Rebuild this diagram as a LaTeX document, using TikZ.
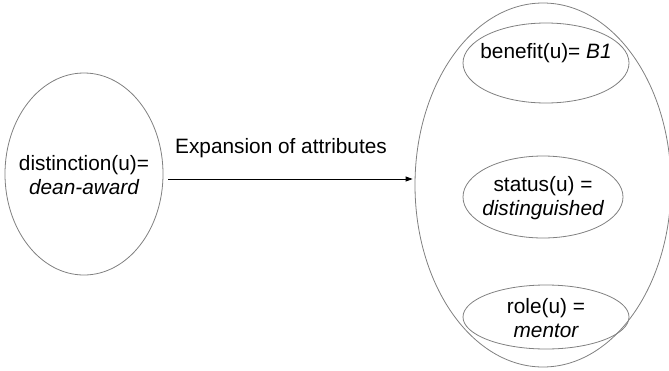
\documentclass[tikz,border=0pt]{standalone}
\usepackage{fontspec}
\setmainfont{Liberation Sans}
\usetikzlibrary{shapes.geometric,arrows.meta}
\begin{document}
\begin{tikzpicture}[x=1pt,y=-1pt,
  oval/.style={ellipse,draw=black!50,line width=0.8pt,inner sep=0pt},
  txt/.style={align=center,font=\fontsize{20.8}{24}\selectfont,inner sep=0pt},
  flow/.style={draw=black,line width=0.8pt,-{Triangle[length=7pt,width=5pt]}}]
\useasboundingbox (0,0) rectangle (669,370);
% source attribute
\node[oval,minimum width=158pt,minimum height=202pt] (src) at (84,174) {};
\node[txt] (srctxt) at (84,175) {distinction(u)=\\\itshape dean-award};
% expanded attribute set
\node[oval,minimum width=256pt,minimum height=364pt] (attrs) at (543,185) {};
\node[oval,minimum width=166pt,minimum height=80pt] (benefit) at (546,63) {};
\node[txt] (benefittxt) at (546,53) {benefit(u)= \textit{B1}};
\node[oval,minimum width=160pt,minimum height=82pt] (status) at (543,197) {};
\node[txt] (statustxt) at (543,198) {status(u) =\\\itshape distinguished};
\node[oval,minimum width=166pt,minimum height=64pt] (role) at (546,317) {};
\node[txt] (roletxt) at (546,318) {role(u) =\\\itshape mentor};
% expansion arrow
\draw[flow] ([xshift=5pt,yshift=-5pt]src.east) -- ([xshift=-2pt,yshift=6pt]attrs.west);
\node[txt] (lbl) at (281,148) {Expansion of attributes};
\end{tikzpicture}
\end{document}
